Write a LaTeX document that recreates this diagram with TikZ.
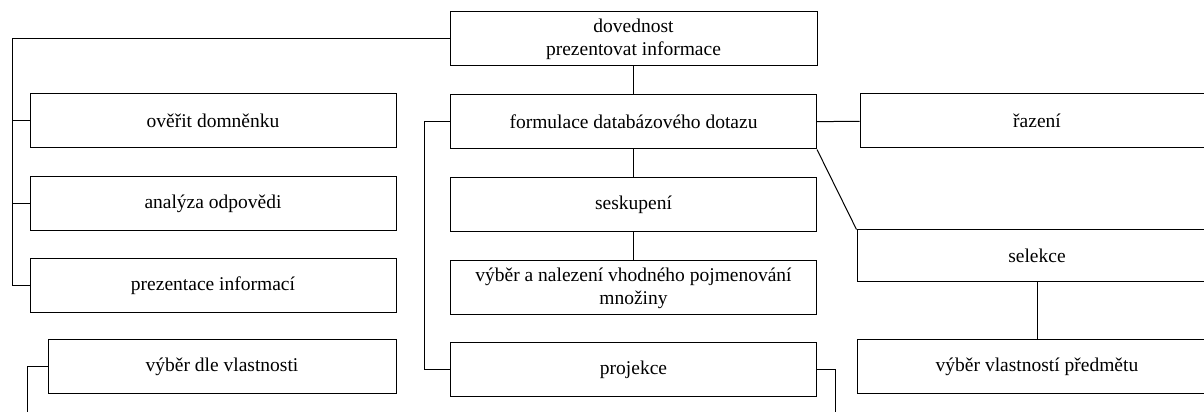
\documentclass[tikz,border=0pt]{standalone}
\usepackage{fontspec}
\setmainfont{Liberation Serif}
\usetikzlibrary{positioning}

\begin{document}
\begin{tikzpicture}[x=1pt,y=1pt,
				box/.style={
					draw, line width=1pt, align=center,
					minimum width=366pt,
					minimum height=54pt,
					inner sep=0pt,
					font=\rmfamily\fontsize{19.5}{23}\selectfont,
				},
				link/.style={draw, line width=1pt}
				]
				\path[use as bounding box, clip] (0,0) rectangle (1204,412);
				
				\node[box, minimum width=367pt] (skill) at (633.5,373) {dovednost\\prezentovat informace};
				\node[box, below=28pt of skill] (query) {formulace databázového dotazu};
				\node[box, below=28pt of query] (cluster) {seskupení};
				\node[box, below=28pt of cluster] (naming)
				{výběr a nalezení vhodného pojmenování\\množiny};
				\node[box, below=27pt of naming] (proj) {projekce};
				
				\node[box] (verify) at (213,291) {ověřit domněnku};
				\node[box, below=28pt of verify] (analysis) {analýza odpovědi};
				\node[box, below=27pt of analysis] (present) {prezentace informací};
				\node[box, minimum width=348pt] (byprop) at (222,45.5) {výběr dle vlastnosti};
				
				\node[box, minimum width=354pt] (order) at (1037,291) {řazení};
				\node[box, minimum width=360pt, minimum height=52pt] (selection) at (1037,156) {selekce};
				\node[box, minimum width=360pt] (properties) at (1037,45.5) {výběr vlastností předmětu};
				
				\coordinate (ltrunk) at (12,0);
				\coordinate (mtrunk) at (424,0);
				\coordinate (lend) at (27,-5);
				\coordinate (rend) at (835,-5);
				
				\draw[link] (skill.west) -| (ltrunk |- present.west) -- (present.west);
				\draw[link] (verify.west) -- (verify.west -| ltrunk);
				\draw[link] (analysis.west) -- (analysis.west -| ltrunk);
				\draw[link] (skill) -- (query);
				\draw[link] (query.west) -| (mtrunk |- proj.west) -- (proj.west);
				\draw[link] (query) -- (cluster);
				\draw[link] (cluster) -- (naming);
				\draw[link] (query) -- (order);
				\draw[link] (query.south east) -- (selection.north west);
				\draw[link] (selection) -- (properties);
				\draw[link] (byprop.west) -| (lend);
				\draw[link] (proj.east) -| (rend);
			\end{tikzpicture}
\end{document}
